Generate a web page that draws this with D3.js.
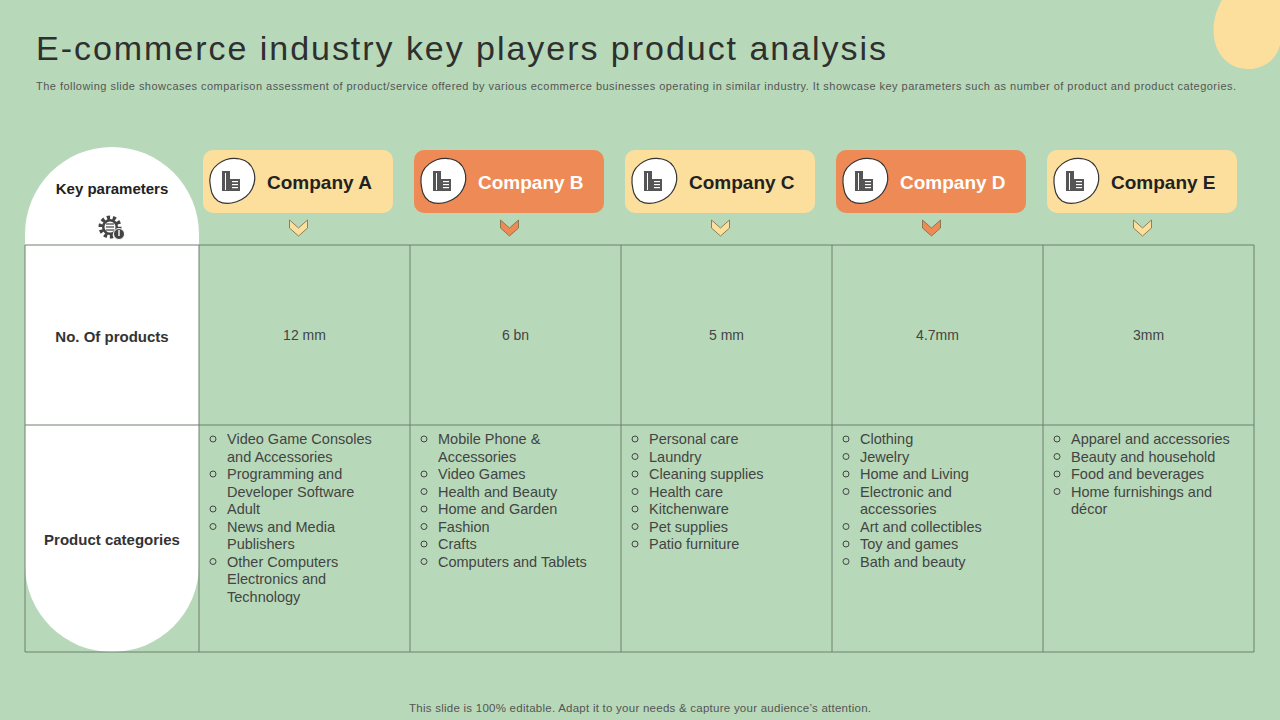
<!DOCTYPE html><html><head><meta charset="utf-8"><script src="https://cdn.jsdelivr.net/npm/d3@7"></script>
<style>body{margin:0;background:#b7d9b9;}svg{display:block;font-family:Arial,"Liberation Sans",sans-serif}</style></head><body>
<script>
const companies=["Company A","Company B","Company C","Company D","Company E"];
const highlight=[false,true,false,true,false];
const products=["12 mm","6 bn","5 mm","4.7mm","3mm"];
const rowLabels=["No. Of products","Product categories"];
const categories=[
 [["Video Game Consoles","and Accessories"],["Programming and","Developer Software"],["Adult"],["News and Media","Publishers"],["Other Computers","Electronics and","Technology"]],
 [["Mobile Phone &","Accessories"],["Video Games"],["Health and Beauty"],["Home and Garden"],["Fashion"],["Crafts"],["Computers and Tablets"]],
 [["Personal care"],["Laundry"],["Cleaning supplies"],["Health care"],["Kitchenware"],["Pet supplies"],["Patio furniture"]],
 [["Clothing"],["Jewelry"],["Home and Living"],["Electronic and","accessories"],["Art and collectibles"],["Toy and games"],["Bath and beauty"]],
 [["Apparel and accessories"],["Beauty and household"],["Food and beverages"],["Home furnishings and","décor"]]
];
const W=1280,H=720;
const svg=d3.select("body").append("svg").attr("width",W).attr("height",H);
svg.append("rect").attr("width",W).attr("height",H).attr("fill","#b7d9b9");
svg.append("path").attr("d","M1222,0 L1280,0 L1280,45 C1275,65 1255,72 1240,68 C1215,62 1205,30 1222,0 Z").attr("fill","#fddf9d");
svg.append("text").attr("x",36).attr("y",60).attr("font-size",34).attr("fill","#2f2f2f").attr("textLength",850).attr("lengthAdjust","spacing").text("E-commerce industry key players product analysis");
svg.append("text").attr("x",36).attr("y",90).attr("font-size",11).attr("fill","#555").attr("textLength",1200).attr("lengthAdjust","spacing").text("The following slide showcases comparison assessment of product/service offered by various ecommerce businesses operating in similar industry. It showcase key parameters such as number of product and product categories.");
svg.append("text").attr("x",640).attr("y",712).attr("text-anchor","middle").attr("font-size",11.5).attr("fill","#555").attr("textLength",462).attr("lengthAdjust","spacing").text("This slide is 100% editable. Adapt it to your needs & capture your audience’s attention.");
const x=d3.scaleBand().domain(companies).range([199,1254]);
const yTop=245,yMid=425,yBot=652,L=25,R=199;
const r=87;
svg.append("path").attr("d",`M${L},${147+r} A${r},${r} 0 0 1 ${R},${147+r} L${R},${yBot-r} A${r},${r} 0 0 1 ${L},${yBot-r} Z`).attr("fill","#fff");
svg.append("text").attr("x",112).attr("y",194).attr("text-anchor","middle").attr("font-size",15).attr("font-weight","bold").attr("fill","#222").text("Key parameters");
const g=svg.append("g").attr("transform","translate(110,227)");
g.append("circle").attr("r",9).attr("fill","none").attr("stroke","#444").attr("stroke-width",5).attr("stroke-dasharray","3 2.6");
g.append("circle").attr("r",8).attr("fill","#444");
g.append("circle").attr("r",5.5).attr("fill","#fff");
[-2,1,4].forEach(d=>g.append("line").attr("x1",-4).attr("x2",4).attr("y1",d-1).attr("y2",d-1).attr("stroke","#444").attr("stroke-width",1.2));
g.append("circle").attr("cx",9).attr("cy",7).attr("r",5.5).attr("fill","#444").attr("stroke","#fff").attr("stroke-width",1);
g.append("rect").attr("x",8.3).attr("y",3).attr("width",1.4).attr("height",6).attr("fill","#fff");
const lc="#6f7f6f";
[L,...companies.map(c=>x(c)),1254].forEach(v=>svg.append("line").attr("x1",v).attr("x2",v).attr("y1",yTop).attr("y2",yBot).attr("stroke",lc));
[yTop,yMid,yBot].forEach(v=>svg.append("line").attr("x1",L).attr("x2",1254).attr("y1",v).attr("y2",v).attr("stroke",lc));
svg.append("text").attr("x",112).attr("y",342).attr("text-anchor","middle").attr("font-size",15).attr("font-weight","bold").attr("fill","#333").text(rowLabels[0]);
svg.append("text").attr("x",112).attr("y",545).attr("text-anchor","middle").attr("font-size",15).attr("font-weight","bold").attr("fill","#333").text(rowLabels[1]);
companies.forEach((c,i)=>{
 const x0=x(c),bw=x.bandwidth();
 const fill=highlight[i]?"#ee8a56":"#fddf9d", tc=highlight[i]?"#fff":"#222";
 svg.append("rect").attr("x",x0+4).attr("y",150).attr("width",190).attr("height",63).attr("rx",10).attr("fill",fill);
 const ic=svg.append("g").attr("transform",`translate(${x0+33},181)`);
 ic.append("path").attr("d","M-22,2 C-24,-14 -8,-25 8,-22 C22,-19 26,-4 20,8 C14,20 -4,26 -14,20 C-20,16 -21,10 -22,2 Z").attr("fill","#fff").attr("stroke","#333").attr("stroke-width",1.2);
 ic.append("rect").attr("x",-10).attr("y",-10).attr("width",8).attr("height",20).attr("fill","#555");
 ic.append("rect").attr("x",-7).attr("y",-8).attr("width",1).attr("height",17).attr("fill","#fff");
 ic.append("rect").attr("x",-2).attr("y",-2).attr("width",10).attr("height",12).attr("fill","#555");
 [1,4,7].forEach(d=>ic.append("rect").attr("x",0).attr("y",d-1).attr("width",6).attr("height",1.2).attr("fill","#fff"));
 svg.append("text").attr("x",x0+68).attr("y",189).attr("font-size",19).attr("font-weight","bold").attr("fill",tc).text(c);
 const cx=x0+bw/2-6;
 svg.append("path").attr("d",`M${cx-9},${220} L${cx},${228} L${cx+9},${220} L${cx+9},${228} L${cx},${236} L${cx-9},${228} Z`).attr("fill",fill).attr("stroke","#7a6a40").attr("stroke-width",0.8);
 svg.append("text").attr("x",x0+bw/2).attr("y",340).attr("text-anchor","middle").attr("font-size",14).attr("fill","#444").text(products[i]);
 let ly=444;
 categories[i].forEach(item=>{
  svg.append("circle").attr("cx",x0+14).attr("cy",ly-5).attr("r",3).attr("fill","none").attr("stroke","#444");
  item.forEach(t=>{svg.append("text").attr("x",x0+28).attr("y",ly).attr("font-size",14.5).attr("fill","#444").text(t);ly+=17.5;});
 });
});
</script></body></html>
